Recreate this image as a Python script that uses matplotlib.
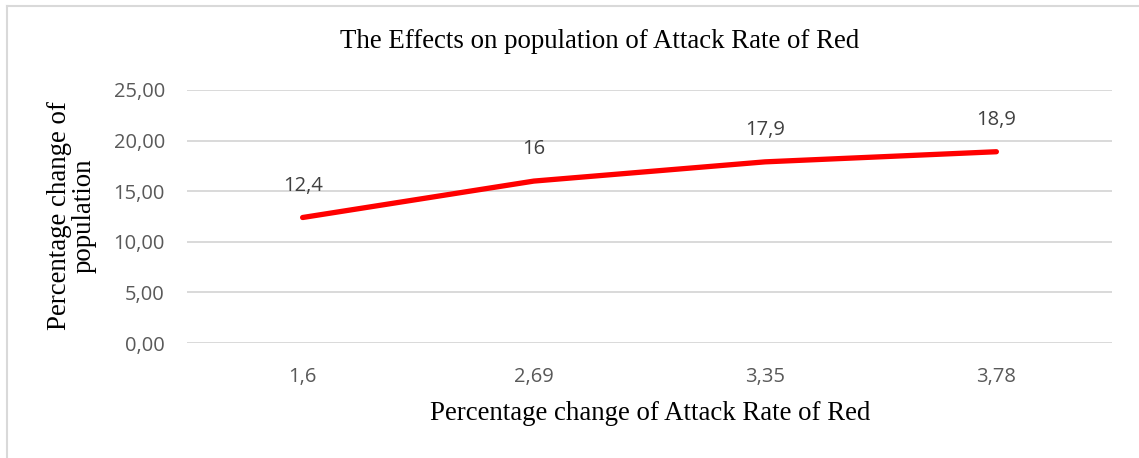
import matplotlib
matplotlib.use("Agg")
import matplotlib.pyplot as plt
from matplotlib.lines import Line2D

# Data
categories = ["1,6", "2,69", "3,35", "3,78"]
values = [12.4, 16.0, 17.9, 18.9]
value_labels = ["12,4", "16", "17,9", "18,9"]
y_ticks = [0, 5, 10, 15, 20, 25]
y_tick_labels = ["0,00", "5,00", "10,00", "15,00", "20,00", "25,00"]

W, H = 1139, 458
DPI = 100
fig = plt.figure(figsize=(W / DPI, H / DPI), dpi=DPI)
fig.patch.set_facecolor("white")

def fx(px):
    return px / W

def fy(py):
    return 1 - py / H

ax = fig.add_axes([fx(187), fy(343), fx(1112) - fx(187), fy(90) - fy(343)])

x = list(range(len(categories)))
ax.plot(x, values, color="#ff0000", linewidth=3.8, solid_capstyle="round",
        solid_joinstyle="round", zorder=3)

for xi, v, lab in zip(x, values, value_labels):
    ax.annotate(lab, (xi, v), xytext=(0, 23), textcoords="offset points",
                ha="center", va="center", fontsize=14.5, color="#404040",
                family="Open Sans")

ax.set_xlim(-0.5, len(categories) - 0.5)
ax.set_ylim(0, 25)
ax.set_xticks(x)
ax.set_xticklabels(categories)
ax.set_yticks(y_ticks)
ax.set_yticklabels(y_tick_labels)
ax.tick_params(axis="both", length=0, labelsize=14.5, labelcolor="#595959")
ax.tick_params(axis="x", pad=17)
ax.tick_params(axis="y", pad=16)
for lab in ax.get_xticklabels() + ax.get_yticklabels():
    lab.set_family("Open Sans")

for s in ax.spines.values():
    s.set_visible(False)
ax.grid(axis="y", color="#d9d9d9", linewidth=1.4)
ax.set_axisbelow(True)

serif = "Liberation Serif"
fig.text(fx(600), fy(42), "The Effects on population of Attack Rate of Red",
         ha="center", va="center", fontsize=19.4, family=serif, color="black")
fig.text(fx(650), fy(413), "Percentage change of Attack Rate of Red",
         ha="center", va="center", fontsize=19.4, family=serif, color="black")
fig.text(fx(72), fy(216), "Percentage change of\npopulation", rotation=90,
         ha="center", va="center", multialignment="center", fontsize=19.4,
         family=serif, color="black", linespacing=1.0)

# Chart frame
fig.add_artist(Line2D([fx(7), fx(7)], [fy(6), 0], transform=fig.transFigure,
                      color="#d9d9d9", linewidth=1.5))
fig.add_artist(Line2D([fx(7), 1], [fy(6), fy(6)], transform=fig.transFigure,
                      color="#d9d9d9", linewidth=1.5))

fig.savefig("out.png", dpi=DPI, facecolor="white")
